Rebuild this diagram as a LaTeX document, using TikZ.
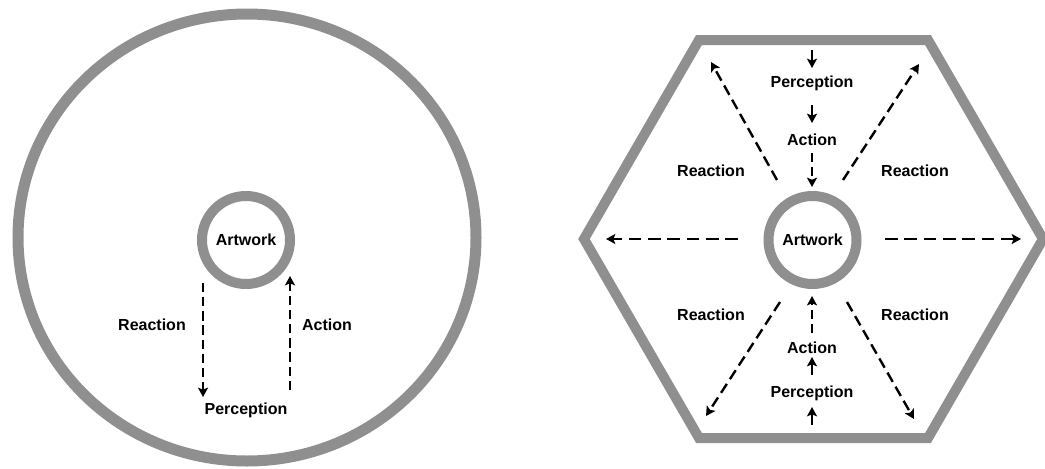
\documentclass[tikz,border=0pt]{standalone}
\usepackage{fontspec}
\setmainfont{Liberation Sans}
\usetikzlibrary{arrows.meta}
\definecolor{ringgray}{RGB}{143,143,143}
\tikzset{
  ring/.style={draw=ringgray, line width=7.5pt},
  artnode/.style={circle, ring, minimum size=66pt, inner sep=0pt, font=\fontsize{12}{14}\selectfont\bfseries},
  lbl/.style={font=\fontsize{12}{14}\selectfont\bfseries, inner sep=0pt},
  tip/.style={-{Stealth[length=7pt,width=7.5pt,inset=1.5pt]}},
  dasharrow/.style={tip, line width=1.8pt, dash pattern=on 7pt off 3.6pt},
  longdash/.style={tip, line width=1.8pt, dash pattern=on 9.5pt off 5pt},
  middash/.style={tip, line width=1.8pt, dash pattern=on 8pt off 4.2pt},
  solidarrow/.style={tip, line width=1.8pt},
}
\begin{document}
\begin{tikzpicture}[x=0.75pt, y=-0.75pt]
\useasboundingbox (0,0) rectangle (1045,468);
% ---------- left diagram ----------
\draw[draw=ringgray, line width=8.25pt] (247,237.5) ellipse [x radius=229, y radius=223.5];
\node[artnode] (art1) at (246,240) {Artwork};
\node[lbl] (reactL) at (152,325) {Reaction};
\node[lbl] (actL) at (327,325) {Action};
\node[lbl] (percL) at (246,410) {Perception};
\coordinate (r1s) at (203,283);
\coordinate (r1e) at (203,397);
\coordinate (a1s) at (290,390);
\coordinate (a1e) at (290,276);
\draw[dasharrow] (r1s) -- (r1e);
\draw[dasharrow] (a1s) -- (a1e);
% ---------- right diagram ----------
\draw[ring, line width=7.5pt, line join=miter] (699,40) coordinate (h1) -- (928,40) coordinate (h2) -- (1043,239) coordinate (h3) -- (928,438) coordinate (h4) -- (699,438) coordinate (h5) -- (584,239) coordinate (h6) -- cycle;
\node[artnode] (art2) at (812.5,240) {Artwork};
\node[lbl] (percT) at (812,83) {Perception};
\node[lbl] (actT) at (812,140) {Action};
\node[lbl] (actB) at (812,348) {Action};
\node[lbl] (percB) at (812,393) {Perception};
\node[lbl] (reTL) at (711,171) {Reaction};
\node[lbl] (reTR) at (915,171) {Reaction};
\node[lbl] (reBL) at (711,315) {Reaction};
\node[lbl] (reBR) at (915,315) {Reaction};
% top column
\coordinate (t1s) at (812,50);
\coordinate (t1e) at (812,68);
\coordinate (t2s) at (812,105);
\coordinate (t2e) at (812,123);
\coordinate (t3s) at (812,153);
\coordinate (t3e) at (812,187);
\draw[solidarrow] (t1s) -- (t1e);
\draw[solidarrow] (t2s) -- (t2e);
\draw[dasharrow] (t3s) -- (t3e);
% bottom column
\coordinate (b1s) at (812,333);
\coordinate (b1e) at (812,296);
\coordinate (b2s) at (812,375);
\coordinate (b2e) at (812,357);
\coordinate (b3s) at (812,425);
\coordinate (b3e) at (812,407);
\draw[dasharrow] (b1s) -- (b1e);
\draw[solidarrow] (b2s) -- (b2e);
\draw[solidarrow] (b3s) -- (b3e);
% diagonals
\coordinate (dulS) at (777,180);
\coordinate (dulE) at (711,62);
\coordinate (durS) at (843,180);
\coordinate (durE) at (919,64);
\coordinate (ddlS) at (780,302);
\coordinate (ddlE) at (706,416);
\coordinate (ddrS) at (847,302);
\coordinate (ddrE) at (914,419);
\draw[middash] (dulS) -- (dulE);
\draw[middash] (durS) -- (durE);
\draw[middash] (ddlS) -- (ddlE);
\draw[middash] (ddrS) -- (ddrE);
% horizontals
\coordinate (hlS) at (738,239);
\coordinate (hlE) at (606,239);
\coordinate (hrS) at (885,239);
\coordinate (hrE) at (1021,239);
\draw[longdash] (hlS) -- (hlE);
\draw[longdash] (hrS) -- (hrE);
\end{tikzpicture}
\end{document}
